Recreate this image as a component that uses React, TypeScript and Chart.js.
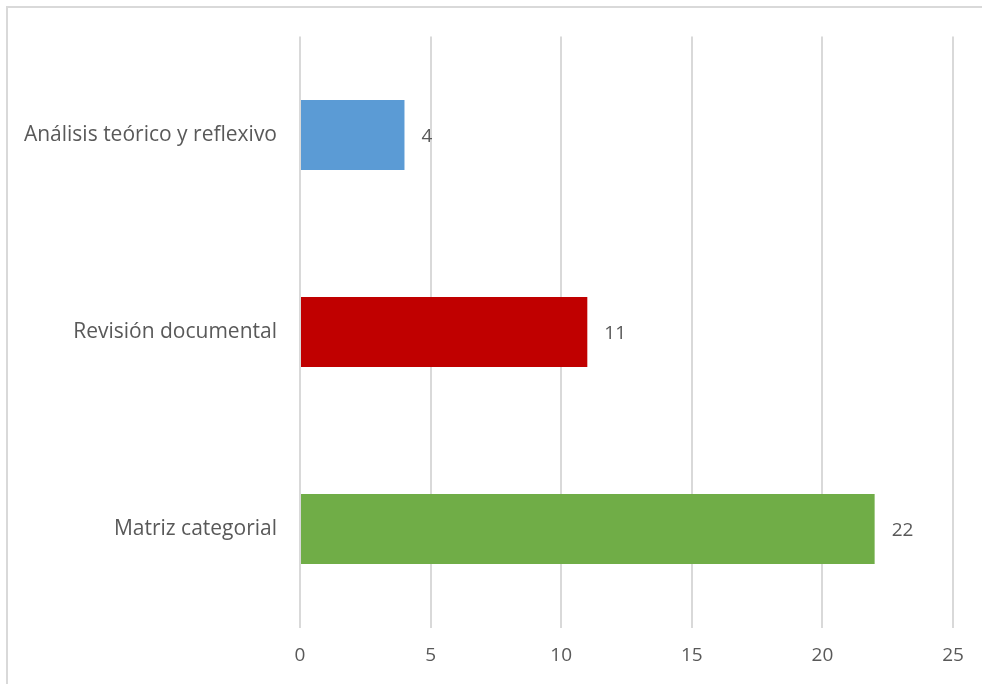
import React, { useEffect, useRef } from "react";
import { Chart, registerables } from "chart.js";

Chart.register(...registerables);

const categories = ["Análisis teórico y reflexivo", "Revisión documental", "Matriz categorial"];
const values = [4, 11, 22];
const barColors = ["#5B9BD5", "#C00000", "#70AD47"];
const xMin = 0;
const xMax = 25;
const xStep = 5;

const FONT = "'Open Sans', sans-serif";
const TEXT = "#595959";
const SIZE = 19;
const CAT_SIZE = 21;

const valueLabels = {
  id: "valueLabels",
  afterDatasetsDraw(chart: any) {
    const ctx = chart.ctx;
    const meta = chart.getDatasetMeta(0);
    ctx.save();
    ctx.font = `${SIZE}px ${FONT}`;
    ctx.fillStyle = TEXT;
    ctx.textAlign = "left";
    ctx.textBaseline = "middle";
    meta.data.forEach((bar: any, i: number) => {
      ctx.fillText(String(values[i]), bar.x + 17, bar.y + 2);
    });
    ctx.restore();
  },
};

export default function App() {
  const ref = useRef<HTMLCanvasElement>(null);
  useEffect(() => {
    if (!ref.current) return;
    const chart = new Chart(ref.current, {
      type: "bar",
      data: {
        labels: categories,
        datasets: [
          {
            data: values,
            backgroundColor: barColors,
            barPercentage: 0.71,
            categoryPercentage: 0.5,
          },
        ],
      },
      options: {
        indexAxis: "y",
        animation: false,
        responsive: false,
        maintainAspectRatio: false,
        layout: { padding: { left: 0, top: 36.5, right: 29, bottom: 0 } },
        plugins: { legend: { display: false }, tooltip: { enabled: false } },
        scales: {
          x: {
            min: xMin,
            max: xMax,
            ticks: { stepSize: xStep, color: TEXT, font: { family: FONT, size: SIZE }, padding: 17 },
            grid: { color: "#d9d9d9", lineWidth: 2, drawTicks: false },
            border: { display: false },
            afterFit: (s: any) => {
              s.height = 56.5;
            },
          },
          y: {
            ticks: { color: TEXT, font: { family: FONT, size: CAT_SIZE }, padding: 23 },
            grid: { display: false, drawTicks: false },
            border: { display: false },
            afterFit: (s: any) => {
              s.width = 300;
            },
          },
        },
      },
      plugins: [valueLabels],
    });
    return () => chart.destroy();
  }, []);
  return (
    <div style={{ position: "absolute", left: 0, top: 0, width: 982, height: 684, background: "#fff", overflow: "hidden" }}>
      <div
        style={{
          position: "absolute",
          left: 6,
          top: 6,
          width: 976,
          height: 678,
          borderTop: "2px solid #d9d9d9",
          borderLeft: "2px solid #d9d9d9",
          boxSizing: "border-box",
        }}
      />
      <canvas ref={ref} width={982} height={684} style={{ position: "absolute", left: 0, top: 0 }} />
    </div>
  );
}
